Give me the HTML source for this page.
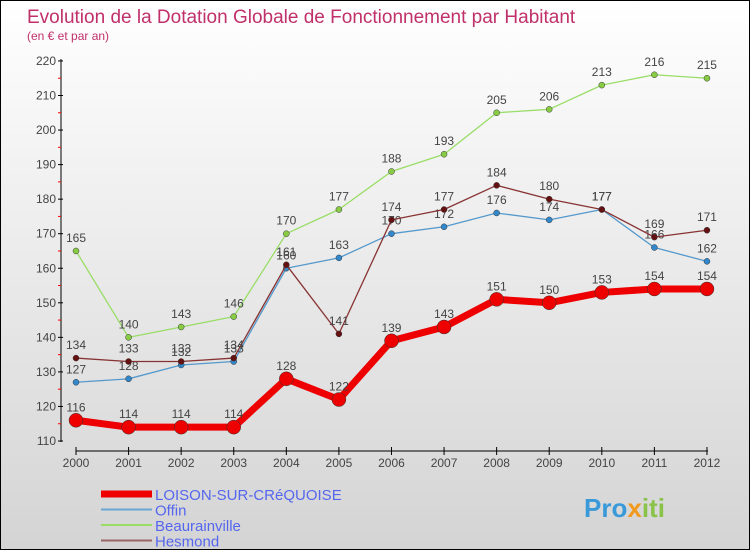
<!DOCTYPE html>
<html><head><meta charset="utf-8"><style>
body{margin:0;}
#c{width:750px;height:550px;position:relative;overflow:hidden;background:linear-gradient(#ffffff,#d4d4d4);box-sizing:border-box;border:1px solid #000;font-family:"Liberation Sans",sans-serif;}
</style></head><body>
<div id="c">
<svg width="750" height="550" style="position:absolute;left:0;top:0" id="svg">
<text x="26" y="22" font-size="19" fill="#c0306a">Evolution de la Dotation Globale de Fonctionnement par Habitant</text>
<text x="26" y="39" font-size="12" fill="#c0306a">(en € et par an)</text>
<g id="axes"></g><g id="series"></g><g id="legend"></g>
<text x="583" y="516" font-size="26" font-weight="bold" fill="#3a9ad9">Pro<tspan fill="#f29a1e">x</tspan><tspan fill="#8bc34a">iti</tspan></text>
</svg>
</div>
<script>
const years=[2000,2001,2002,2003,2004,2005,2006,2007,2008,2009,2010,2011,2012];
const yTicks=[110,120,130,140,150,160,170,180,190,200,210,220];
const loison=[116,114,114,114,128,122,139,143,151,150,153,154,154];
const offin=[127,128,132,133,160,163,170,172,176,174,177,166,162];
const beaurainville=[165,140,143,146,170,177,188,193,205,206,213,216,215];
const hesmond=[134,133,133,134,161,141,174,177,184,180,177,169,171];
const NS="http://www.w3.org/2000/svg";
function xs(i){return 75+i*52.58;}
function ys(v){return 440-(v-110)*3.455;}
function mk(t,a,p){const e=document.createElementNS(NS,t);for(const k in a)e.setAttribute(k,a[k]);p.appendChild(e);return e;}
const ax=document.getElementById('axes');
let l=mk('line',{x1:60,y1:58,x2:60,y2:441,stroke:'#000'},ax);


l=mk('line',{x1:75,y1:450,x2:707,y2:450,stroke:'#000'},ax);


yTicks.forEach(v=>{
 mk('line',{x1:57,x2:62,y1:ys(v),y2:ys(v),stroke:'#000'},ax);
 if(v<220) mk('line',{x1:57,x2:60,y1:ys(v+5),y2:ys(v+5),stroke:'#f00'},ax);
 const t=mk('text',{x:55,y:ys(v)+4,'font-size':12,fill:'#444','text-anchor':'end'},ax);t.textContent=v;
 
 
});
years.forEach((y,i)=>{
 mk('line',{x1:xs(i),x2:xs(i),y1:446,y2:454,stroke:'#000'},ax);
 const t=mk('text',{x:xs(i),y:466,'font-size':12,fill:'#444','text-anchor':'middle'},ax);t.textContent=y;
 
 
});
const sg=document.getElementById('series');
function draw(d,color,w,r,dot,name){
 const g=mk('g',{},sg);
 
 
 const pl=mk('polyline',{points:d.map((v,i)=>xs(i)+','+ys(v)).join(' '),fill:'none',stroke:color,'stroke-width':w,'stroke-linejoin':'round'},g);
 
 
 d.forEach((v,i)=>{
  const c=mk('circle',{cx:xs(i),cy:ys(v),r:r,fill:dot,stroke:'#333','stroke-width':0.5},g);
  
  
  const t=mk('text',{x:xs(i),y:ys(v)-9,'font-size':12,fill:'#444','text-anchor':'middle'},g);t.textContent=v;
  
  
 });
}
draw(beaurainville,'#99dd66',1.3,3,'#88cc44','beaurainville');
draw(offin,'#5599cc',1.3,3,'#3388cc','offin');
draw(hesmond,'#883333',1.3,3,'#661111','hesmond');
draw(loison,'#ee0000',7,7,'#ee0000','loison');
const lg=document.getElementById('legend');
const items=[['LOISON-SUR-CRéQUOISE','#ee0000',7],['Offin','#6aa6d4',2],['Beaurainville','#99dd66',2],['Hesmond','#996666',2]];
items.forEach((it,i)=>{
 const y=493+i*15.5;
 const g=mk('g',{},lg);
 
 
 mk('line',{x1:100,x2:151,y1:y,y2:y,stroke:it[1],'stroke-width':it[2]},g);
 const t=mk('text',{x:154,y:y+6,'font-size':15,fill:'#5566ee'},g);t.textContent=it[0];
});
</script>
</body></html>
